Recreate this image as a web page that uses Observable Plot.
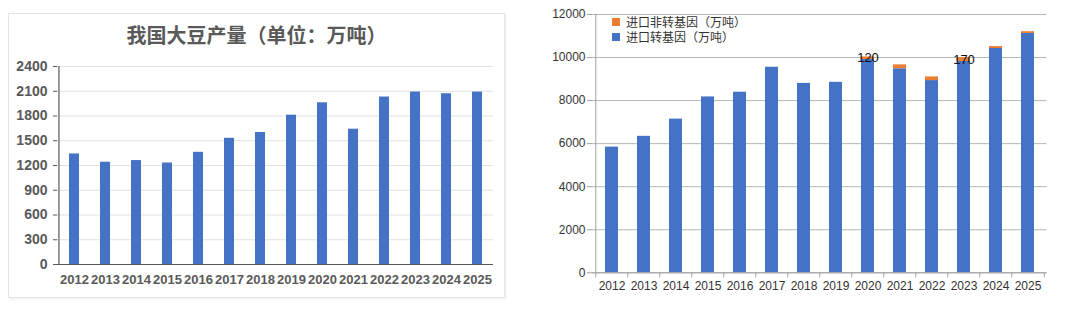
<!DOCTYPE html>
<html>
<head>
<meta charset="utf-8">
<script src="https://cdn.jsdelivr.net/npm/d3@7"></script>
<script src="https://cdn.jsdelivr.net/npm/@observablehq/plot@0.6"></script>
<style>
  html, body { margin: 0; padding: 0; background: #fff; }
  #page { position: relative; width: 1080px; height: 315px; overflow: hidden; }
  #leftBox { position: absolute; left: 8px; top: 13px; width: 495px; height: 283px;
    border: 1px solid #e6e6e6; box-shadow: 1px 1px 2px rgba(0,0,0,0.08); }
  #leftTitle { position: absolute; left: 8px; top: 22px; width: 497px; text-align: center;
    font: bold 20px "Noto Sans CJK SC", sans-serif; line-height: 26px; color: #595959; }
  #leftChart { position: absolute; left: 8px; top: 13px; }
  #rightChart { position: absolute; left: 540px; top: 0px; }
  #legend { position: absolute; left: 612px; top: 14px; font: 12px "Noto Sans CJK SC", sans-serif;
    color: #333; line-height: 15px; }
  #legend .row { display: flex; align-items: center; }
  #legend .sw { width: 8px; height: 8px; margin-right: 6px; }
</style>
</head>
<body>
<div id="page">
  <div id="leftBox"></div>
  <div id="leftChart"></div>
  <div id="leftTitle"></div>
  <div id="rightChart"></div>
  <div id="legend"></div>
</div>
<script>
// ---- data ----
const years = ["2012","2013","2014","2015","2016","2017","2018","2019","2020","2021","2022","2023","2024","2025"];
const production = [1340, 1240, 1260, 1230, 1360, 1530, 1600, 1810, 1960, 1640, 2030, 2090, 2070, 2090];
const gmImports = [5840, 6340, 7140, 8170, 8390, 9550, 8800, 8850, 9910, 9480, 8930, 9820, 10420, 11120];
const nonGmImports = [0, 0, 0, 0, 0, 0, 0, 0, 120, 180, 170, 170, 90, 80];
const nonGmLabels = [null, null, null, null, null, null, null, null, "120", null, null, "170", null, null];
const leftTicks = [0, 300, 600, 900, 1200, 1500, 1800, 2100, 2400];
const rightTicks = [0, 2000, 4000, 6000, 8000, 10000, 12000];
const leftTitle = "我国大豆产量（单位：万吨）";
const seriesNames = ["进口转基因（万吨）", "进口非转基因（万吨）"];
const seriesKeys = ["gm", "nongm"];
const blue = "#4472C4", orange = "#ED7D31";
const plain = d => String(d);

// ---- left chart ----
document.getElementById("leftTitle").textContent = leftTitle;
const leftData = years.map((year, i) => ({year, value: production[i]}));
const L = {width: 497, height: 285, ml: 49, mr: 12, mt: 53, mb: 34};
const lStep = (L.width - L.ml - L.mr) / years.length;
const leftPlot = Plot.plot({
  width: L.width, height: L.height,
  marginLeft: L.ml, marginRight: L.mr, marginTop: L.mt, marginBottom: L.mb,
  style: {fontFamily: "'Liberation Sans', Arial, sans-serif", fontSize: "14px", fontWeight: "bold", background: "transparent", overflow: "visible"},
  x: {domain: years, paddingInner: 0.68, paddingOuter: 0.34, label: null},
  y: {domain: [0, 2400], label: null},
  marks: [
    Plot.gridY(leftTicks, {stroke: "#e2e2e2", strokeOpacity: 1}),
    Plot.barY(leftData, {x: "year", y: "value", fill: blue}),
    Plot.ruleY([0], {stroke: "#595959", strokeWidth: 1.2}),
    Plot.ruleX([years[0]], {dx: -lStep / 2, stroke: "#595959", strokeWidth: 1.2}),
    Plot.axisY({ticks: leftTicks, tickFormat: plain, tickSize: 4, tickPadding: 6, color: "#595959", fontSize: 14}),
    Plot.axisX({tickSize: 0, tickPadding: 10, color: "#595959", fontSize: 13})
  ]
});
document.getElementById("leftChart").appendChild(leftPlot);

// ---- right chart ----
const rightData = years.flatMap((year, i) => [
  {year, type: "gm", value: gmImports[i]},
  {year, type: "nongm", value: nonGmImports[i]}
]);
const labelData = years.map((year, i) => ({year, y: gmImports[i] + nonGmImports[i] / 2, text: nonGmLabels[i]}))
  .filter(d => d.text != null);
const R = {width: 540, height: 315, ml: 52, mr: 33.5, mt: 14, mb: 42.7};
const rStep = (R.width - R.ml - R.mr) / years.length;
const rightPlot = Plot.plot({
  width: R.width, height: R.height,
  marginLeft: R.ml, marginRight: R.mr, marginTop: R.mt, marginBottom: R.mb,
  style: {fontFamily: "'Liberation Sans', Arial, sans-serif", fontSize: "12px", background: "transparent", overflow: "visible"},
  x: {domain: years, paddingInner: 0.6, paddingOuter: 0.3, label: null},
  y: {domain: [0, 12000], label: null},
  color: {domain: seriesKeys, range: [blue, orange]},
  marks: [
    Plot.gridY(rightTicks, {stroke: "#b5b5b5", strokeOpacity: 1}),
    Plot.barY(rightData, {x: "year", y: "value", fill: "type"}),
    Plot.ruleY([0], {stroke: "#a0a0a0"}),
    Plot.ruleX([years[0]], {dx: -rStep / 2, stroke: "#a0a0a0"}),
    Plot.axisY({ticks: rightTicks, tickSize: 5, tickFormat: () => "", stroke: "#a0a0a0"}),
    Plot.axisY({ticks: rightTicks, tickFormat: plain, tickSize: 0, tickPadding: 7, fill: "#333", fontSize: 12}),
    Plot.axisX({tickSize: 5, tickFormat: () => "", dx: -rStep / 2, stroke: "#a0a0a0"}),
    Plot.axisX({ticks: [years[years.length - 1]], tickSize: 5, tickFormat: () => "", dx: rStep / 2, stroke: "#a0a0a0"}),
    Plot.axisX({tickSize: 0, tickPadding: 9, fill: "#333", fontSize: 12}),
    Plot.text(labelData, {x: "year", y: "y", text: "text", fill: "#111", fontSize: 13})
  ]
});
document.getElementById("rightChart").appendChild(rightPlot);

// ---- legend ----
const legend = document.getElementById("legend");
[[seriesNames[1], orange], [seriesNames[0], blue]].forEach(([name, c]) => {
  const row = document.createElement("div");
  row.className = "row";
  const sw = document.createElement("span");
  sw.className = "sw";
  sw.style.background = c;
  const t = document.createElement("span");
  t.textContent = name;
  row.appendChild(sw); row.appendChild(t);
  legend.appendChild(row);
});
</script>
</body>
</html>
